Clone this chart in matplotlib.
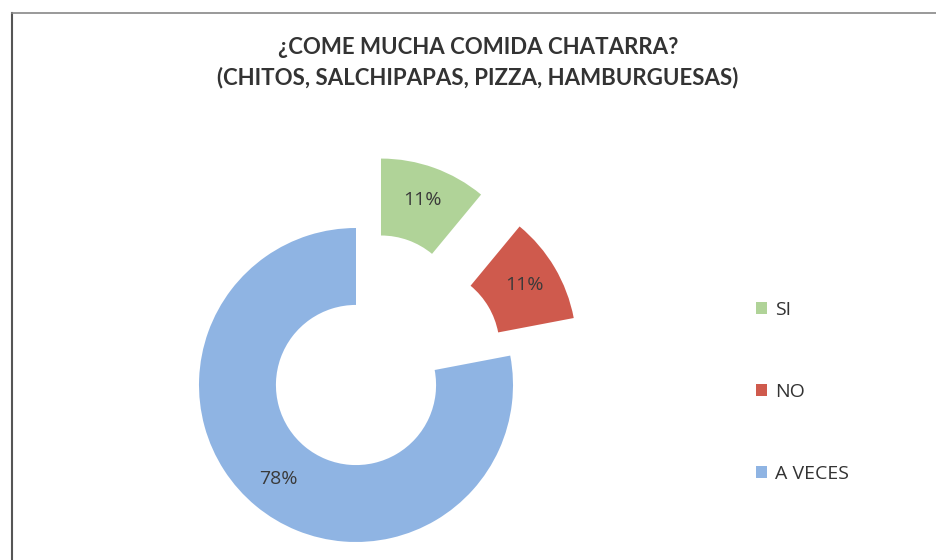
import matplotlib.pyplot as plt
from matplotlib.lines import Line2D

labels = ['SI', 'NO', 'A VECES']
values = [11, 11, 78]
colors = ['#b0d398', '#cf5a4d', '#8fb4e3']

title_lines = ['¿COME MUCHA COMIDA CHATARRA?',
               '(CHITOS, SALCHIPAPAS, PIZZA, HAMBURGUESAS)']

W, H = 936, 560
cx, cy, r_px = 356, 385, 157

fig = plt.figure(figsize=(W / 100, H / 100), dpi=100)
fig.patch.set_facecolor('white')

# axes span the whole figure, one data unit = the outer radius in pixels
ax = fig.add_axes([0, 0, 1, 1])

wedges, _, pcts = ax.pie(
    values, colors=colors, startangle=90, counterclock=False,
    explode=[0.47, 0.47, 0.0], radius=1.0,
    wedgeprops=dict(width=0.49, linewidth=0),
    autopct=lambda p: f'{p:.0f}%', pctdistance=0.78,
    textprops=dict(fontsize=14, color='#3a3a3a', family='Open Sans'),
    frame=True)
ax.set_xlim(-cx / r_px, (W - cx) / r_px)
ax.set_ylim(-(H - cy) / r_px, cy / r_px)
ax.set_aspect('equal')
ax.axis('off')

for i, line in enumerate(title_lines):
    fig.text(478 / W, 1 - (47 + 31 * i) / H, line, ha='center', va='center',
             fontsize=16, fontweight='bold', color='#333333', family='Lato')

leg = fig.legend(wedges, labels, loc='center left',
                 bbox_to_anchor=(738 / W, 1 - 392 / H),
                 frameon=False, handlelength=0.6, handleheight=0.6,
                 handletextpad=0.4, labelspacing=3.3,
                 prop=dict(family='Open Sans', size=14))
for t in leg.get_texts():
    t.set_color('#333333')

# chart frame (left and top edges)
fig.add_artist(Line2D([12 / W, 12 / W], [0, 1 - 13 / H],
                      transform=fig.transFigure, color='#555555', lw=1.5))
fig.add_artist(Line2D([12 / W, 1], [1 - 13 / H, 1 - 13 / H],
                      transform=fig.transFigure, color='#888888', lw=1.2))

fig.savefig('out.png', dpi=100, facecolor='white')
